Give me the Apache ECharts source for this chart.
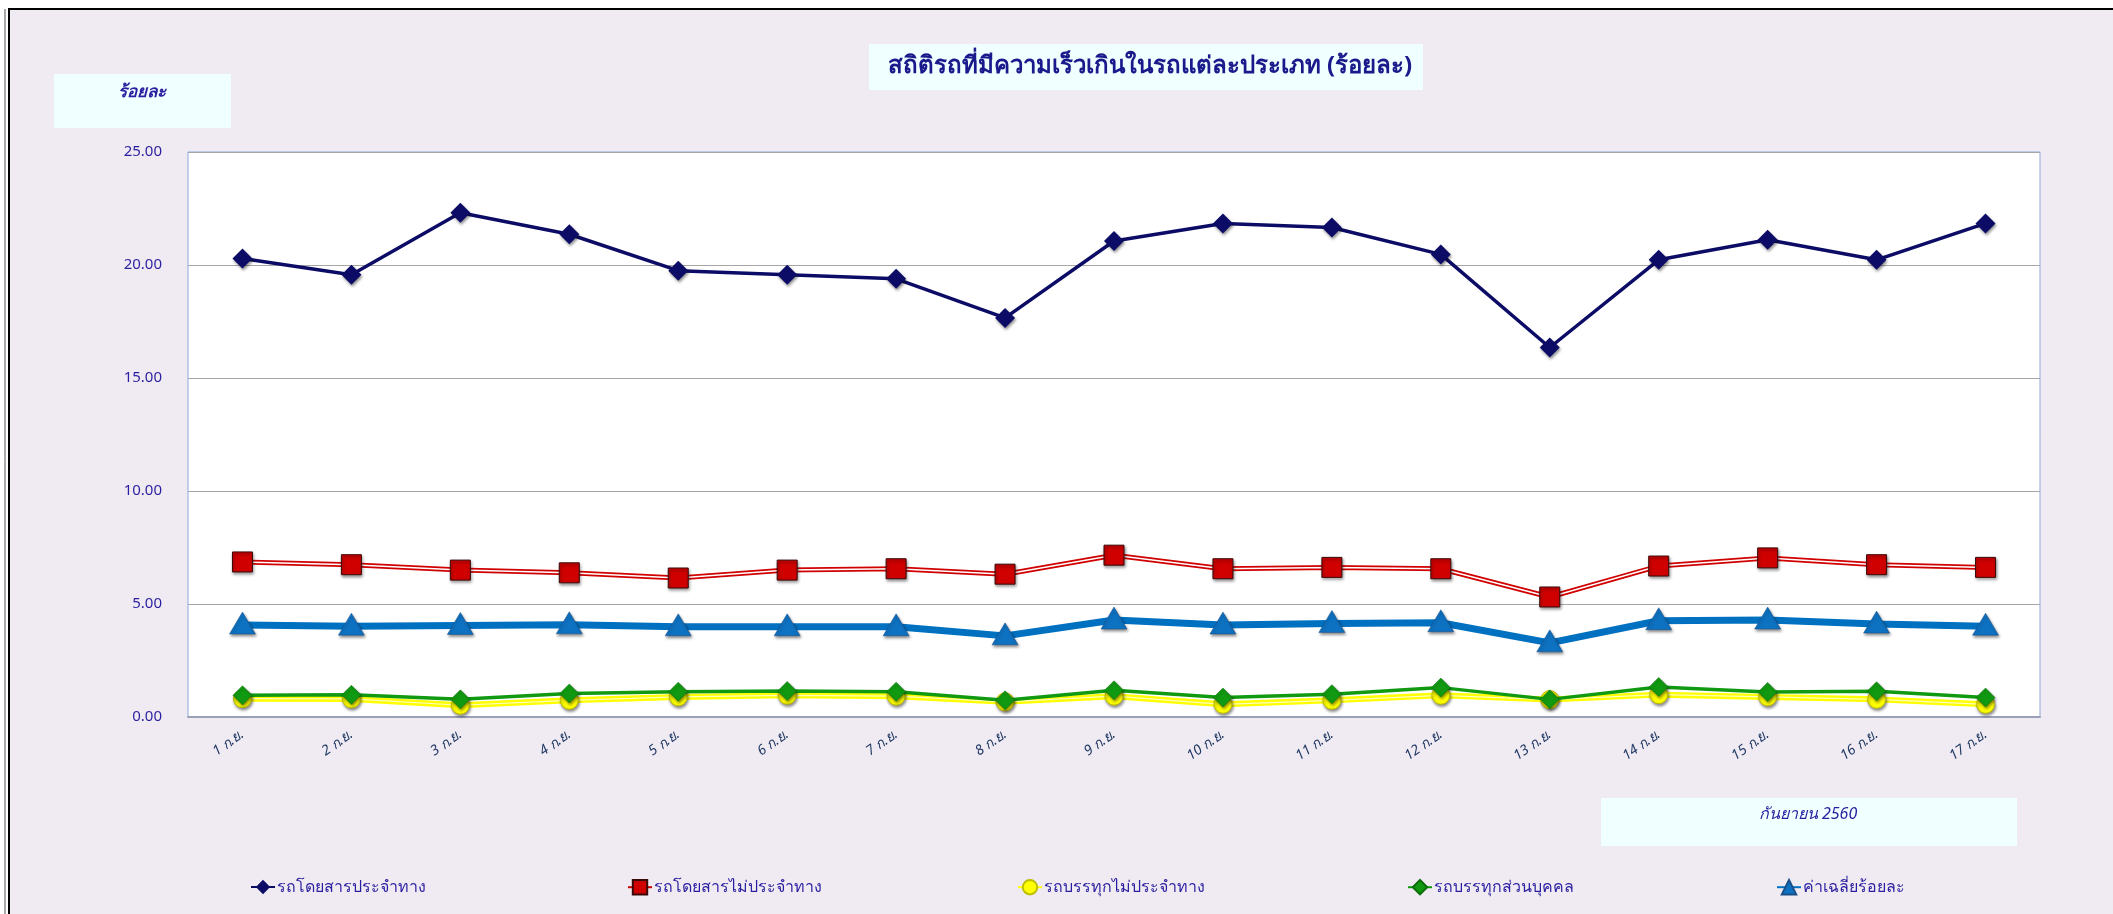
<!DOCTYPE html>
<html>
<head>
<meta charset="utf-8">
<title>สถิติรถที่มีความเร็วเกิน</title>
<script src="https://cdn.jsdelivr.net/npm/echarts@6/dist/echarts.min.js"></script>
<style>
  html, body { margin: 0; padding: 0; background: #fff; }
  #main { width: 2113px; height: 914px; }
</style>
</head>
<body>
<div id="main"></div>
<script>
// วันที่ (ก.ย. 2560)
var days = ['1 ก.ย.', '2 ก.ย.', '3 ก.ย.', '4 ก.ย.', '5 ก.ย.', '6 ก.ย.', '7 ก.ย.', '8 ก.ย.', '9 ก.ย.',
  '10 ก.ย.', '11 ก.ย.', '12 ก.ย.', '13 ก.ย.', '14 ก.ย.', '15 ก.ย.', '16 ก.ย.', '17 ก.ย.'];

var seriesNames = ['รถโดยสารประจำทาง', 'รถโดยสารไม่ประจำทาง', 'รถบรรทุกไม่ประจำทาง', 'รถบรรทุกส่วนบุคคล', 'ค่าเฉลี่ยร้อยละ'];

// ร้อยละ
var busRegular = [20.29, 19.57, 22.31, 21.36, 19.75, 19.57, 19.39, 17.66, 21.06, 21.84, 21.66, 20.47, 16.35, 20.23, 21.12, 20.23, 21.84];
var busNonRegular = [6.86, 6.74, 6.50, 6.38, 6.15, 6.50, 6.56, 6.32, 7.16, 6.56, 6.62, 6.56, 5.31, 6.68, 7.04, 6.74, 6.62];
var truckNonRegular = [0.81, 0.80, 0.52, 0.74, 0.89, 0.96, 0.92, 0.67, 0.92, 0.56, 0.74, 0.96, 0.77, 0.99, 0.89, 0.78, 0.56];
var truckPrivate = [0.96, 0.98, 0.78, 1.04, 1.12, 1.15, 1.12, 0.74, 1.18, 0.86, 1.01, 1.30, 0.78, 1.33, 1.11, 1.14, 0.86];
var average = [4.07, 4.02, 4.05, 4.08, 3.99, 3.99, 3.99, 3.59, 4.29, 4.07, 4.14, 4.17, 3.28, 4.26, 4.29, 4.11, 4.02];

var yTicks = { min: 0, max: 25, interval: 5 };

var FONT = '"Noto Sans", "DejaVu Sans", sans-serif';
var TXT = '#2A1FA0';
var shadow = { shadowBlur: 3, shadowColor: 'rgba(0,0,0,0.45)', shadowOffsetY: 2, shadowOffsetX: 1 };

var myChart = echarts.init(document.getElementById('main'));

function legendAt(name, x) {
  return {
    data: [{ name: name, lineStyle: { opacity: 1 } }],
    left: x, top: 874,
    itemWidth: 24, itemHeight: 18, itemGap: 0,
    textStyle: { color: TXT, fontSize: 16, fontFamily: FONT, padding: [0, 0, 0, -3] }
  };
}

var option = {
  backgroundColor: '#ffffff',
  animation: false,
  textStyle: { fontFamily: FONT },
  graphic: [
    // พื้นหลังกรอบ
    { type: 'rect', z: -10, shape: { x: 9, y: 9, width: 2110, height: 910 },
      style: { fill: '#F0EBF2', stroke: '#000', lineWidth: 2 } },
    { type: 'line', z: -9, shape: { x1: 5, y1: 9, x2: 5, y2: 914 }, style: { stroke: '#555', lineWidth: 1 } },
    // กล่องชื่อกราฟ
    { type: 'rect', shape: { x: 869, y: 44, width: 554, height: 46 }, style: { fill: '#F0FFFF' } },
    { type: 'text', x: 1150, y: 66, style: { text: 'สถิติรถที่มีความเร็วเกินในรถแต่ละประเภท (ร้อยละ)',
      fill: '#1A1A8C', font: 'bold 24px ' + FONT, align: 'center', verticalAlign: 'middle' } },
    // ชื่อแกน
    { type: 'rect', shape: { x: 54, y: 74, width: 177, height: 54 }, style: { fill: '#F0FFFF' } },
    { type: 'text', x: 142, y: 92, style: { text: 'ร้อยละ', fill: TXT,
      font: 'italic bold 17px ' + FONT, align: 'center', verticalAlign: 'middle' } },
    { type: 'rect', shape: { x: 1601, y: 798, width: 416, height: 48 }, style: { fill: '#F0FFFF' } },
    { type: 'text', x: 1808, y: 814, style: { text: 'กันยายน 2560', fill: TXT,
      font: 'italic 16px ' + FONT, align: 'center', verticalAlign: 'middle' } }
  ],
  legend: [
    legendAt(seriesNames[0], 245),
    legendAt(seriesNames[1], 622),
    legendAt(seriesNames[2], 1012),
    legendAt(seriesNames[3], 1402),
    legendAt(seriesNames[4], 1771)
  ],
  grid: {
    left: 188, right: 73, top: 152, bottom: 197,
    show: true, backgroundColor: '#ffffff', borderColor: '#8FA8D6', borderWidth: 1
  },
  xAxis: {
    type: 'category',
    data: days,
    boundaryGap: true,
    axisLine: { lineStyle: { color: '#9AA0B8', width: 2 } },
    axisTick: { show: false },
    axisLabel: { rotate: 35, margin: 16, color: '#1F3864', fontSize: 14, fontStyle: 'italic', fontFamily: FONT }
  },
  yAxis: {
    type: 'value',
    min: yTicks.min, max: yTicks.max, interval: yTicks.interval,
    axisLine: { show: false },
    axisTick: { show: false },
    splitLine: { lineStyle: { color: '#A6A6A6', width: 1 } },
    axisLabel: { margin: 26, color: TXT, fontSize: 15, fontFamily: FONT,
      formatter: function (v) { return v.toFixed(2); } }
  },
  series: [
    {
      name: seriesNames[0], type: 'line', data: busRegular,
      symbol: 'diamond', symbolSize: 20, z: 5,
      lineStyle: { color: '#0C0C66', width: 3.5 },
      itemStyle: Object.assign({ color: '#0C0C66' }, shadow)
    },
    // เส้นคู่สีแดง
    { type: 'line', data: busNonRegular, showSymbol: false, silent: true, z: 2,
      lineStyle: { color: '#D00000', width: 5 } },
    { type: 'line', data: busNonRegular, showSymbol: false, silent: true, z: 2,
      lineStyle: { color: '#ffffff', width: 1.5 } },
    {
      name: seriesNames[1], type: 'line', data: busNonRegular,
      symbol: 'rect', symbolSize: 20, z: 4,
      lineStyle: { color: '#D00000', width: 4, opacity: 0 },
      itemStyle: Object.assign({ color: '#D00000', borderColor: '#3A0A0A', borderWidth: 1 }, shadow)
    },
    // เส้นคู่สีเหลือง
    { type: 'line', data: truckNonRegular, showSymbol: false, silent: true, z: 2,
      lineStyle: { color: '#FFFF00', width: 6 } },
    { type: 'line', data: truckNonRegular, showSymbol: false, silent: true, z: 2,
      lineStyle: { color: '#FFFFC0', width: 1.2 } },
    {
      name: seriesNames[2], type: 'line', data: truckNonRegular,
      symbol: 'circle', symbolSize: 18, z: 3,
      lineStyle: { color: '#FFFF00', width: 5, opacity: 0 },
      itemStyle: Object.assign({ color: '#FFFF00', borderColor: '#BDBD00', borderWidth: 1 }, shadow)
    },
    {
      name: seriesNames[3], type: 'line', data: truckPrivate,
      symbol: 'diamond', symbolSize: 19, z: 4,
      lineStyle: { color: '#119A11', width: 3.5 },
      itemStyle: Object.assign({ color: '#119A11', borderColor: '#0B6E0B', borderWidth: 0.5 }, shadow)
    },
    {
      name: seriesNames[4], type: 'line', data: average,
      symbol: 'triangle', symbolSize: [26, 22], symbolOffset: [0, -2], z: 4,
      lineStyle: { color: '#0070C0', width: 7 },
      itemStyle: Object.assign({ color: '#0E72C2', borderColor: '#1B4F8A', borderWidth: 0.5 }, shadow)
    }
  ]
};

myChart.setOption(option);
</script>
</body>
</html>
